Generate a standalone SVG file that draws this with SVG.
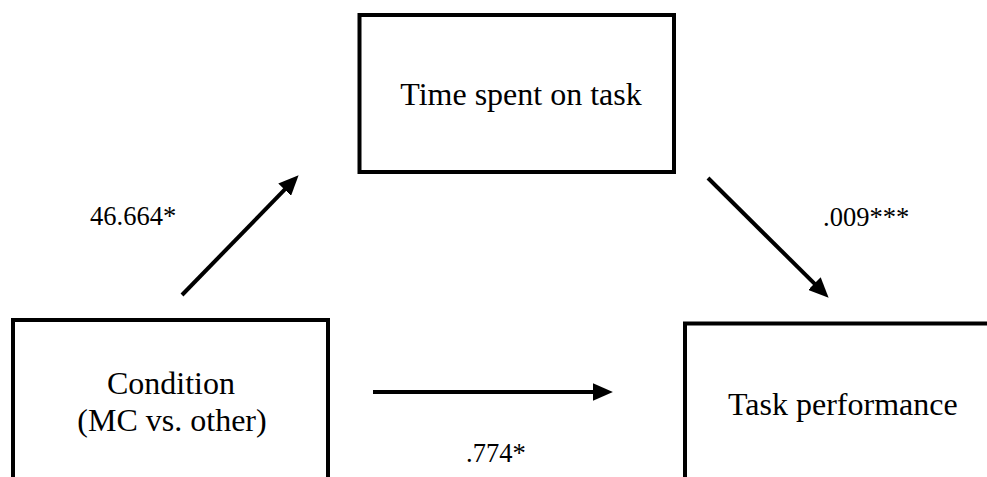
<svg xmlns="http://www.w3.org/2000/svg" width="987" height="477" viewBox="0 0 987 477">
  <style>
    .box { fill: #ffffff; stroke: #000000; stroke-width: 4; }
    .name { font-family: "Liberation Serif", "Times New Roman", serif; font-size: 32px; fill: #000000; }
    .coef { font-family: "Liberation Serif", "Times New Roman", serif; font-size: 26.5px; fill: #000000; }
    .link { stroke: #000000; stroke-width: 4; fill: none; marker-end: url(#head); }
  </style>
  <defs>
    <marker id="head" markerUnits="userSpaceOnUse" markerWidth="20" markerHeight="18" viewBox="0 0 18 16" refX="10" refY="8" orient="auto">
      <path d="M0,0 L18,8 L0,16 Z" fill="#000000"/>
    </marker>
  </defs>
  <rect x="0" y="0" width="987" height="477" fill="#ffffff"/>

  <!-- mediator -->
  <g id="time-spent">
    <rect class="box" x="359.5" y="15" width="314.5" height="157"/>
    <text class="name" x="521" y="105" text-anchor="middle">Time spent on task</text>
  </g>

  <!-- predictor -->
  <g id="condition">
    <rect class="box" x="13" y="320" width="315" height="180"/>
    <text class="name" x="171" y="394" text-anchor="middle">Condition</text>
    <text class="name" x="172" y="431" text-anchor="middle">(MC vs. other)</text>
  </g>

  <!-- outcome -->
  <g id="task-performance">
    <rect class="box" x="685" y="323.5" width="330" height="180"/>
    <text class="name" x="728" y="415">Task performance</text>
  </g>

  <!-- paths with coefficients -->
  <g id="connectors">
    <line class="link" x1="182" y1="295" x2="292.4" y2="181.7"/>
    <line class="link" x1="708" y1="178" x2="822.3" y2="291.4"/>
    <line class="link" x1="373" y1="392" x2="604" y2="392"/>
    <text class="coef" x="90" y="225">46.664*</text>
    <text class="coef" x="823" y="226">.009***</text>
    <text class="coef" x="466" y="462">.774*</text>
  </g>
</svg>
